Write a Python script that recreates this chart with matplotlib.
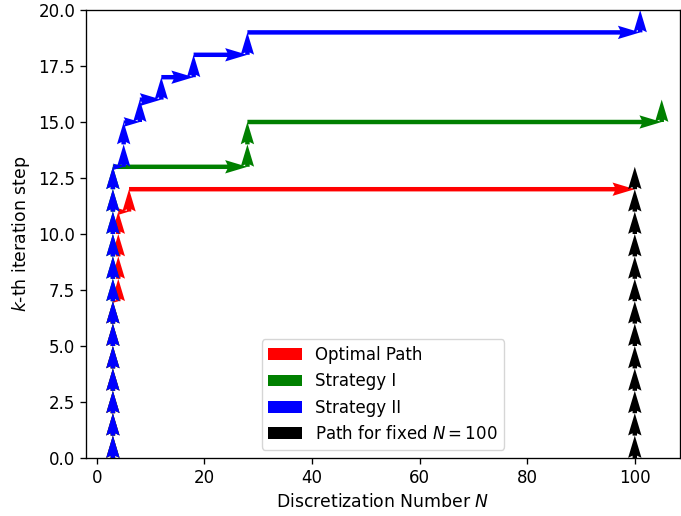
import numpy as np
import matplotlib
matplotlib.use("Agg")
import matplotlib.pyplot as plt

# Visited (N, k) states for each refinement strategy
optimal_N = [3, 3, 3, 3, 3, 3, 3, 3, 4, 4, 4, 4, 6, 100]
optimal_k = [0, 1, 2, 3, 4, 5, 6, 7, 8, 9, 10, 11, 12, 12]

strategy1_N = [3, 3, 3, 3, 3, 3, 3, 3, 3, 3, 3, 3, 3, 3, 28, 28, 105]
strategy1_k = [0, 1, 2, 3, 4, 5, 6, 7, 8, 9, 10, 11, 12, 13, 14, 15, 16]

strategy2_N = [3, 3, 3, 3, 3, 3, 3, 3, 3, 3, 3, 3, 3, 3, 5, 5, 8, 12, 18, 28, 101]
strategy2_k = [0, 1, 2, 3, 4, 5, 6, 7, 8, 9, 10, 11, 12, 13, 14, 15, 16, 17, 18, 19, 20]

fixed_N = [100] * 14
fixed_k = [0, 1, 2, 3, 4, 5, 6, 7, 8, 9, 10, 11, 12, 13]

paths = [
    (optimal_N, optimal_k, "red", "Optimal Path"),
    (strategy1_N, strategy1_k, "green", "Strategy I"),
    (strategy2_N, strategy2_k, "blue", "Strategy II"),
    (fixed_N, fixed_k, "black", r"Path for fixed $N=100$"),
]


def step_segments(N, k):
    """Split each transition into a horizontal (N) move followed by a vertical (k) move."""
    x, y, u, v = [], [], [], []
    for i in range(len(N) - 1):
        n0, n1, k0, k1 = N[i], N[i + 1], k[i], k[i + 1]
        if n1 != n0:
            x.append(n0); y.append(k0); u.append(n1 - n0); v.append(0)
        if k1 != k0:
            x.append(n1); y.append(k0); u.append(0); v.append(k1 - k0)
    return np.array(x), np.array(y), np.array(u), np.array(v)


fig = plt.figure(figsize=(6.81, 5.16), dpi=100)
ax = fig.add_axes([86 / 681, 58 / 516, 594 / 681, 448 / 516])

for N, k, color, label in paths:
    x, y, u, v = step_segments(N, k)
    ax.quiver(x, y, u, v, angles="xy", scale_units="xy", scale=1,
              color=color, width=0.0075, label=label)

ax.set_xlim(-2.0, 108.4)
ax.set_ylim(0, 20)
ax.set_xticks([0, 20, 40, 60, 80, 100])
ax.set_yticks(np.arange(0, 20.01, 2.5))
ax.tick_params(labelsize=12, length=4.2, width=0.96)
for s in ax.spines.values():
    s.set_linewidth(0.96)
ax.set_xlabel(r"Discretization Number $N$", fontsize=12.4, labelpad=4.5)
ax.set_ylabel(r"$k$-th iteration step", fontsize=12.4, labelpad=4.5)
ax.legend(loc="lower center", fontsize=12)

fig.savefig("out.png", dpi=100)
